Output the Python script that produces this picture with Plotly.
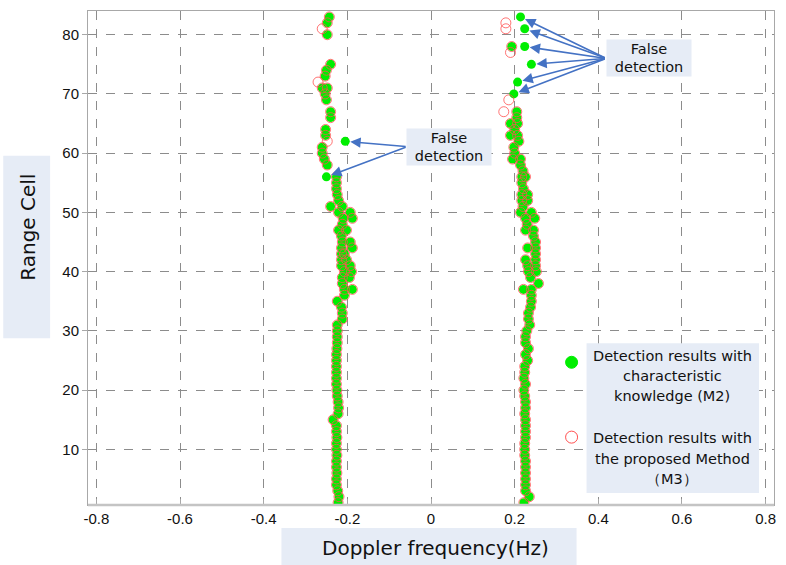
import plotly.graph_objects as go

# ---------------- data ----------------
# Left target (negative Doppler) - detected by both methods (M2 and M3)
left_range = list(range(1, 31)) + [31, 32, 33, 34, 35, 36, 37, 37, 38, 39, 39, 40, 40,
                                   41, 41, 42, 42, 43, 43, 44, 44, 45, 45, 46, 47, 47,
                                   48, 49, 49, 50, 50, 51, 51, 52, 53, 54, 55, 56,
                                   58, 59, 60, 61, 63, 64, 66, 67, 69, 70, 71, 71,
                                   73, 74, 75, 80, 82, 83]
left_doppler = [-0.222, -0.220, -0.223, -0.226, -0.226, -0.225, -0.226, -0.226, -0.225, -0.226,
                -0.226, -0.225, -0.226, -0.226, -0.234, -0.222, -0.221, -0.222, -0.224, -0.225,
                -0.226, -0.226, -0.226, -0.226, -0.226, -0.226, -0.225, -0.224, -0.224, -0.224,
                -0.224, -0.212, -0.212, -0.214, -0.224, -0.207, -0.207, -0.188, -0.212, -0.195,
                -0.212, -0.207, -0.190, -0.214, -0.193, -0.214, -0.202, -0.207, -0.214, -0.214,
                -0.188, -0.212, -0.193, -0.214, -0.221, -0.202, -0.212, -0.210, -0.188, -0.221,
                -0.193, -0.212, -0.240, -0.221, -0.224, -0.226, -0.226, -0.226,
                -0.248, -0.255, -0.260, -0.260, -0.252, -0.252, -0.240, -0.240, -0.250, -0.253,
                -0.260, -0.248, -0.253, -0.250, -0.240, -0.248, -0.248, -0.243]

# Right target (positive Doppler) - detected by both methods
right_range = list(range(1, 37)) + [37, 37, 38, 39, 40, 40, 41, 41, 42, 42, 43, 44, 44,
                                    45, 46, 47, 47, 48, 49, 49, 50, 50, 51, 52, 52, 53, 53,
                                    54, 55, 56, 56, 57, 58, 59, 59, 60, 61, 62, 63, 63,
                                    64, 65, 65, 66, 67, 78]
right_doppler = [0.222, 0.235, 0.226, 0.226, 0.226, 0.226, 0.226, 0.226, 0.224, 0.224,
                 0.224, 0.226, 0.226, 0.226, 0.226, 0.224, 0.226, 0.226, 0.224, 0.222,
                 0.226, 0.222, 0.224, 0.224, 0.231, 0.226, 0.233, 0.226, 0.226, 0.229,
                 0.236, 0.233, 0.233, 0.238, 0.240, 0.240,
                 0.240, 0.221, 0.257, 0.238, 0.252, 0.233, 0.250, 0.231, 0.250, 0.226,
                 0.250, 0.231, 0.250, 0.250, 0.245, 0.226, 0.245, 0.230, 0.226, 0.248,
                 0.214, 0.240, 0.220, 0.217, 0.231, 0.217, 0.231, 0.221, 0.217, 0.226,
                 0.217, 0.220, 0.214, 0.214, 0.195, 0.200, 0.198, 0.210, 0.207, 0.190,
                 0.200, 0.207, 0.190, 0.205, 0.205, 0.193]

# False detections present only in M2 (characteristic knowledge)
m2_false_range = [62, 56, 83, 81, 78, 75, 72, 70]
m2_false_doppler = [-0.205, -0.250, 0.214, 0.224, 0.224, 0.240, 0.207, 0.198]

# Detections present only in M3 (proposed method)
m3_only_range = [81, 72, 62, 82, 81, 77, 69, 67]
m3_only_doppler = [-0.260, -0.270, -0.248, 0.179, 0.179, 0.190, 0.186, 0.174]

m2_range = left_range + right_range + m2_false_range
m2_doppler = left_doppler + right_doppler + m2_false_doppler
m3_range = left_range + right_range + m3_only_range
m3_doppler = left_doppler + right_doppler + m3_only_doppler

x_ticks = [-0.8, -0.6, -0.4, -0.2, 0, 0.2, 0.4, 0.6, 0.8]
x_tick_text = ["-0.8", "-0.6", "-0.4", "-0.2", "0", "0.2", "0.4", "0.6", "0.8"]
y_ticks = [10, 20, 30, 40, 50, 60, 70, 80]

legend_m2 = ["Detection results with", "characteristic", "knowledge (M2)"]
legend_m3 = ["Detection results with", "the proposed Method", "（M3）"]

# ---------------- figure ----------------
W, H = 786, 565
ML, MR, MT, MB = 88, 10, 10, 60
PW, PH = W - ML - MR, H - MT - MB


def px(xp):
    return (xp - ML) / PW


def py(yp):
    return (H - MB - yp) / PH


GREEN = "#00ee00"
RED = "#ff5050"
BOXBG = "#e6ecf6"
ARROW = "#4472c4"
TXT_FONT = "DejaVu Sans"

fig = go.Figure()
fig.add_trace(go.Scatter(x=m2_doppler, y=m2_range, mode="markers",
                         marker=dict(size=9, color=GREEN, line=dict(width=0)),
                         name="M2", showlegend=False))
fig.add_trace(go.Scatter(x=m3_doppler, y=m3_range, mode="markers",
                         marker=dict(size=10, color=RED, symbol="circle-open",
                                     line=dict(width=0.8, color=RED)),
                         name="M3", showlegend=False))

shapes = []
# legend box
shapes.append(dict(type="rect", xref="paper", yref="paper", x0=px(588), x1=px(761),
                   y0=py(493), y1=py(343), fillcolor=BOXBG, line=dict(width=0), layer="above"))
# y-title box
shapes.append(dict(type="rect", xref="paper", yref="paper", x0=px(3), x1=px(50),
                   y0=py(338), y1=py(155), fillcolor=BOXBG, line=dict(width=0), layer="above"))
# x-title box
shapes.append(dict(type="rect", xref="paper", yref="paper", x0=px(282), x1=px(578),
                   y0=py(565), y1=py(528), fillcolor=BOXBG, line=dict(width=0), layer="above"))
# legend markers
for yy, fill, lc in [(362, GREEN, GREEN), (437, "rgba(0,0,0,0)", RED)]:
    shapes.append(dict(type="circle", xref="paper", yref="paper",
                       xsizemode="pixel", ysizemode="pixel",
                       xanchor=px(573), yanchor=py(yy), x0=-6, x1=6, y0=-6, y1=6,
                       fillcolor=fill, line=dict(width=1, color=lc), layer="above"))
# bottom axis (thicker light grey)
shapes.append(dict(type="line", xref="paper", yref="paper", x0=0, x1=1, y0=0, y1=0,
                   line=dict(width=2.5, color="#c4c4c4"), layer="above"))

annotations = []
for i, t in enumerate(legend_m2):
    annotations.append(dict(xref="paper", yref="paper", x=px(674), y=py(356 + 20 * i),
                            text=t, showarrow=False, xanchor="center", yanchor="middle",
                            font=dict(family=TXT_FONT, size=14.5, color="#111")))
for i, t in enumerate(legend_m3):
    annotations.append(dict(xref="paper", yref="paper", x=px(674), y=py(438 + 20.5 * i),
                            text=t, showarrow=False, xanchor="center", yanchor="middle",
                            font=dict(family=TXT_FONT, size=14.5, color="#111")))

# titles
annotations.append(dict(xref="paper", yref="paper", x=px(437), y=py(548), text="Doppler frequency(Hz)",
                        showarrow=False, xanchor="center", yanchor="middle",
                        font=dict(family=TXT_FONT, size=20, color="#111")))
annotations.append(dict(xref="paper", yref="paper", x=px(27), y=py(227), text="Range Cell",
                        showarrow=False, xanchor="center", yanchor="middle", textangle=-90,
                        font=dict(family=TXT_FONT, size=20, color="#111")))

# false detection arrows (left group)
left_tail = (-0.057, 61.1)
for xd, yd in zip(m2_false_doppler[:2], m2_false_range[:2]):
    annotations.append(dict(x=xd, y=yd, ax=left_tail[0], ay=left_tail[1], xref="x", yref="y",
                            axref="x", ayref="y", text="", showarrow=True, arrowhead=2,
                            arrowsize=1.3, arrowwidth=1.6, arrowcolor=ARROW, standoff=5))
right_tail = (0.419, 76.0)
for xd, yd in zip(m2_false_doppler[2:], m2_false_range[2:]):
    annotations.append(dict(x=xd, y=yd, ax=right_tail[0], ay=right_tail[1], xref="x", yref="y",
                            axref="x", ayref="y", text="", showarrow=True, arrowhead=2,
                            arrowsize=1.3, arrowwidth=1.6, arrowcolor=ARROW, standoff=5))
# false detection boxes
for cx, cy in [(0.043, 61.1), (0.521, 76.0)]:
    annotations.append(dict(x=cx, y=cy, xref="x", yref="y", text="False<br>detection",
                            showarrow=False, bgcolor=BOXBG, width=84, height=36, borderpad=0,
                            xanchor="center", yanchor="middle",
                            font=dict(family=TXT_FONT, size=14.5, color="#111")))

fig.update_layout(
    width=W, height=H,
    margin=dict(l=ML, r=MR, t=MT, b=MB, pad=0),
    paper_bgcolor="white", plot_bgcolor="white",
    shapes=shapes, annotations=annotations,
    xaxis=dict(range=[-0.82, 0.82], tickvals=x_ticks, ticktext=x_tick_text,
               showgrid=True, gridcolor="#8c8c8c", griddash="dash", gridwidth=1,
               zeroline=False, showline=True, linecolor="#a8a8a8", linewidth=1, mirror=True,
               ticks="inside", ticklen=6, tickcolor="#a8a8a8",
               tickfont=dict(family="Liberation Sans", size=15, color="#111")),
    yaxis=dict(range=[0.6, 84], tickvals=y_ticks,
               showgrid=True, gridcolor="#8c8c8c", griddash="dash", gridwidth=1,
               zeroline=False, showline=True, linecolor="#a8a8a8", linewidth=1, mirror=True,
               ticks="outside", ticklen=5, tickcolor="#a8a8a8",
               tickfont=dict(family="Liberation Sans", size=15, color="#111")),
)

fig.write_html("out.html", config={"displayModeBar": False},
               post_script="document.body.style.margin='0';")
